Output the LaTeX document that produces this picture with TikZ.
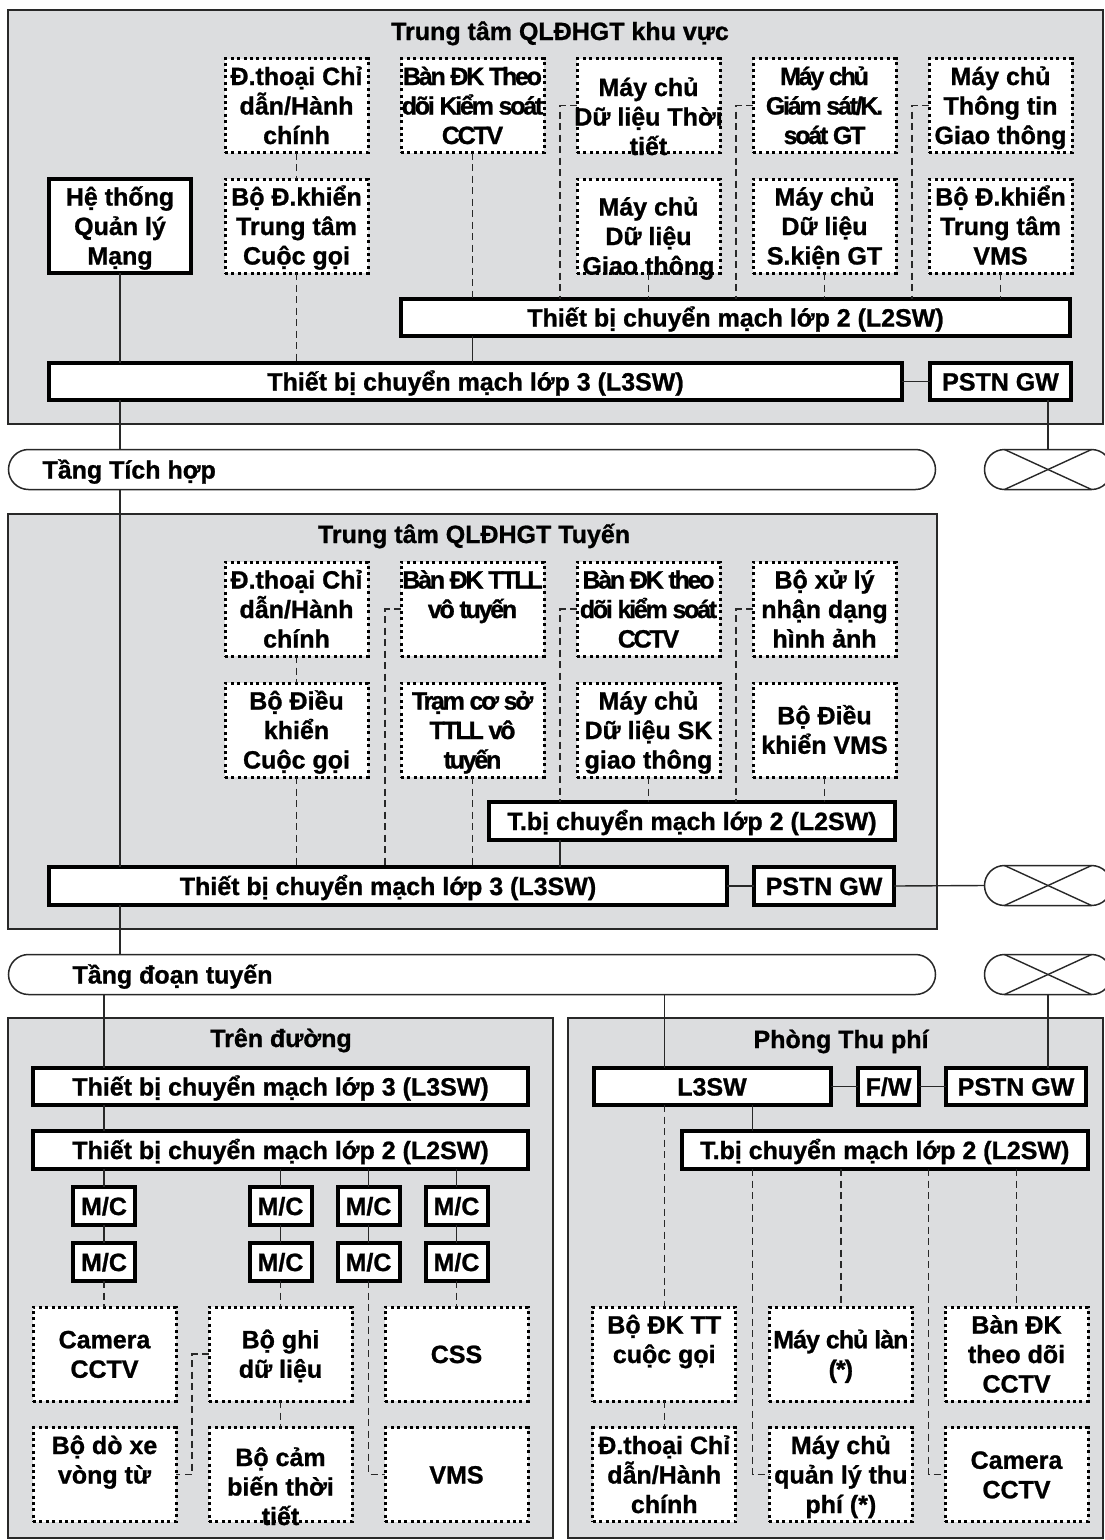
\documentclass[tikz,border=0pt]{standalone}
\usepackage{fontspec}
\setmainfont{Liberation Sans}[BoldFeatures={FakeBold=1}]
\usetikzlibrary{shapes.misc}
\definecolor{graybg}{RGB}{220,221,223}
\definecolor{linec}{RGB}{40,40,40}
\newcommand\bfont{\bfseries\fontsize{25}{29.5}\selectfont\lineskiplimit=-100pt\relax}
\newcommand\vs{\rule[-5.5pt]{0pt}{29pt}}
\begin{document}
\begin{tikzpicture}[x=1pt,y=-1pt,
  every node/.style={outer sep=0pt},
  frame/.style={draw=linec, line width=1.5pt, fill=graybg, inner sep=0pt},
  heading/.style={font=\bfont, inner sep=0pt, anchor=base},
  txt/.style={align=center, font=\bfont, inner sep=0pt},
  sw/.style={txt, draw=black, line width=4pt, fill=white, minimum height=37pt},
  mc/.style={sw, minimum width=62pt, minimum height=38pt},
  dbox/.style={txt, draw=black, line width=3pt, dash pattern=on 3pt off 3.4pt, fill=white, minimum width=143pt, minimum height=94pt},
  tight/.style={font=\bfont\addfontfeature{LetterSpace=-9}},
  semitight/.style={font=\bfont\addfontfeature{LetterSpace=-4}},
  link/.style={draw=linec, line width=1.4pt},
  dlink/.style={draw=linec, line width=1.4pt, dash pattern=on 7pt off 4.5pt},
  bus/.style={rounded rectangle, draw=linec, line width=1.5pt, fill=white, inner sep=0pt, minimum height=40pt},
  pstn cloud/.style={bus, minimum width=127pt},
  ]
\fill[white] (0,0) rectangle (1105,1540);
\useasboundingbox (0,0) rectangle (1105,1540);

% ---------------- regional centre ----------------
\node[frame, minimum width=1095pt, minimum height=414pt] (fr1) at (555.5,217) {};
\node[heading] (t1) at (560,40) {Trung tâm QLĐHGT khu vực};

\node[dbox] (a1) at (296.5,105.5) {\vs Đ.thoại Chỉ\\dẫn/Hành\\chính\vs};
\node[dbox,tight] (a2) at (472.5,105.5) {\vs Bàn ĐK Theo\\dõi Kiểm soát\\CCTV\vs};
\node[dbox, label={[txt,yshift=-11pt]center:{\vs Máy chủ\\Dữ liệu Thời\\tiết\vs}}] (a3) at (648.5,105.5) {};
\node[dbox,tight] (a4) at (824.5,105.5) {\vs Máy chủ\\Giám sát/K.\\soát GT\vs};
\node[dbox] (a5) at (1000.5,105.5) {\vs Máy chủ\\Thông tin\\Giao thông\vs};

\node[sw, minimum width=142pt, minimum height=94pt] (hts) at (120,226) {\vs Hệ thống\\Quản lý\\Mạng\vs};
\node[dbox] (b1) at (296.5,226) {\vs Bộ Đ.khiển\\Trung tâm\\Cuộc gọi\vs};
\node[dbox, label={[txt,yshift=-10pt]center:{\vs Máy chủ\\Dữ liệu\\Giao thông\vs}}] (b3) at (648.5,226) {};
\node[dbox] (b4) at (824.5,226) {\vs Máy chủ\\Dữ liệu\\S.kiện GT\vs};
\node[dbox] (b5) at (1000.5,226) {\vs Bộ Đ.khiển\\Trung tâm\\VMS\vs};

\node[sw, minimum width=669pt] (tl2) at (735.5,317.5) {\vs Thiết bị chuyển mạch lớp 2 (L2SW)\vs};
\node[sw, minimum width=853pt] (tl3) at (475.5,381.5) {\vs Thiết bị chuyển mạch lớp 3 (L3SW)\vs};
\node[sw, minimum width=141pt] (tgw) at (1000.5,381.5) {\vs PSTN GW\vs};

% ---------------- integration layer ----------------
\node[bus, minimum width=927pt, label={[txt,anchor=west,xshift=34pt]west:{\vs Tầng Tích hợp\vs}}] (bus1) at (472,469.5) {};
\node[pstn cloud] (cl1) at (1048,469.5) {};

% ---------------- route centre ----------------
\node[frame, minimum width=929pt, minimum height=415pt] (fr2) at (472.5,721.5) {};
\node[heading] (t2) at (474,543) {Trung tâm QLĐHGT Tuyến};

\node[dbox] (c1) at (296.5,609) {\vs Đ.thoại Chỉ\\dẫn/Hành\\chính\vs};
\node[dbox,tight] (c2) at (472.5,609) {\vs Bàn ĐK TTLL\\vô tuyến\\\vs};
\node[dbox,tight] (c3) at (648.5,609) {\vs Bàn ĐK theo\\dõi kiểm soát\\CCTV\vs};
\node[dbox] (c4) at (824.5,609) {\vs Bộ xử lý\\nhận dạng\\hình ảnh\vs};

\node[dbox] (d1) at (296.5,730) {\vs Bộ Điều\\khiển\\Cuộc gọi\vs};
\node[dbox,tight] (d2) at (472.5,730) {\vs Trạm cơ sở\\TTLL vô\\tuyến\vs};
\node[dbox] (d3) at (648.5,730) {\vs Máy chủ\\Dữ liệu SK\\giao thông\vs};
\node[dbox] (d4) at (824.5,730) {\vs Bộ Điều\\khiển VMS\vs};

\node[sw, minimum width=406pt, minimum height=38pt] (ml2) at (692,821) {\vs T.bị chuyển mạch lớp 2 (L2SW)\vs};
\node[sw, minimum width=678pt, minimum height=38pt] (ml3) at (388,886) {\vs Thiết bị chuyển mạch lớp 3 (L3SW)\vs};
\node[sw, minimum width=140pt, minimum height=38pt] (mgw) at (824,886) {\vs PSTN GW\vs};
\node[pstn cloud] (cl2) at (1048,885.5) {};

% ---------------- section layer ----------------
\node[bus, minimum width=927pt, label={[txt,anchor=west,xshift=64pt]west:{\vs Tầng đoạn tuyến\vs}}] (bus2) at (472,974.5) {};
\node[pstn cloud] (cl3) at (1048,974.5) {};

% ---------------- roadside ----------------
\node[frame, minimum width=545pt, minimum height=520pt] (fr3) at (280.5,1278) {};
\node[heading] (t3) at (281,1047) {Trên đường};
\node[sw, minimum width=495pt] (rl3) at (280.5,1086.5) {\vs Thiết bị chuyển mạch lớp 3 (L3SW)\vs};
\node[sw, minimum width=495pt, minimum height=38pt] (rl2) at (280.5,1150) {\vs Thiết bị chuyển mạch lớp 2 (L2SW)\vs};

\node[mc] (mc11) at (104,1206) {\vs M/C\vs};
\node[mc] (mc12) at (104,1262) {\vs M/C\vs};
\node[mc] (mc21) at (280.5,1206) {\vs M/C\vs};
\node[mc] (mc22) at (280.5,1262) {\vs M/C\vs};
\node[mc] (mc31) at (368.5,1206) {\vs M/C\vs};
\node[mc] (mc32) at (368.5,1262) {\vs M/C\vs};
\node[mc] (mc41) at (456.5,1206) {\vs M/C\vs};
\node[mc] (mc42) at (456.5,1262) {\vs M/C\vs};

\node[dbox] (e1) at (104.5,1354) {\vs Camera\\CCTV\vs};
\node[dbox] (e2) at (280.5,1354) {\vs Bộ ghi\\dữ liệu\vs};
\node[dbox] (e3) at (456.5,1354) {\vs CSS\vs};
\node[dbox] (f1) at (104.5,1474.5) {\vs Bộ dò xe\\vòng từ\\\vs};
\node[dbox, label={[txt,yshift=-12pt]center:{\vs Bộ cảm\\biến thời\\tiết\vs}}] (f2) at (280.5,1474.5) {};
\node[dbox] (f3) at (456.5,1474.5) {\vs VMS\vs};

% ---------------- toll office ----------------
\node[frame, minimum width=535pt, minimum height=520pt] (fr4) at (835.5,1278) {};
\node[heading] (t4) at (841,1048) {Phòng Thu phí};
\node[sw, minimum width=237pt] (pl3) at (712,1086.5) {\vs L3SW\vs};
\node[sw, minimum width=61pt] (fw) at (888.5,1086.5) {\vs F/W\vs};
\node[sw, minimum width=140pt] (pgw) at (1016,1086.5) {\vs PSTN GW\vs};
\node[sw, minimum width=405.5pt, minimum height=38pt] (pl2) at (884.75,1150) {\vs T.bị chuyển mạch lớp 2 (L2SW)\vs};

\node[dbox] (g1) at (664.25,1354) {\vs Bộ ĐK TT\\cuộc gọi\\\vs};
\node[dbox,semitight] (g2) at (840.85,1354) {\vs Máy chủ làn\\(*)\vs};
\node[dbox] (g3) at (1016.5,1354) {\vs Bàn ĐK\\theo dõi\\CCTV\vs};
\node[dbox] (h1) at (664.25,1474.5) {\vs Đ.thoại Chỉ\\dẫn/Hành\\chính\vs};
\node[dbox] (h2) at (840.85,1474.5) {\vs Máy chủ\\quản lý thu\\phí (*)\vs};
\node[dbox] (h3) at (1016.5,1474.5) {\vs Camera\\CCTV\vs};

% ---------------- PSTN cloud crosses ----------------
\foreach \c in {cl1,cl2,cl3}{
  \draw[link] ([xshift=-43.5pt]\c.north) -- ([xshift=43.5pt]\c.south);
  \draw[link] ([xshift=-43.5pt]\c.south) -- ([xshift=43.5pt]\c.north);
}

% ---------------- connectors: regional centre ----------------
\coordinate (ka3) at ([xshift=-17pt]a3.west);
\coordinate (ka4) at ([xshift=-17pt]a4.west);
\coordinate (ka5) at ([xshift=-17pt]a5.west);
\draw[dlink] (a1) -- (b1);
\draw[dlink] (b1.south) -- (b1.south |- tl3.north);
\draw[link] (hts.south) -- (hts.south |- tl3.north);
\draw[dlink] (a2.south) -- (a2.south |- tl2.north);
\draw[link] (a2.south |- tl2.south) -- (a2.south |- tl3.north);
\draw[dlink] (a3.west) -- (ka3) -- (ka3 |- tl2.north);
\draw[dlink] (a4.west) -- (ka4) -- (ka4 |- tl2.north);
\draw[dlink] (a5.west) -- (ka5) -- (ka5 |- tl2.north);
\draw[dlink] (b3.south) -- (b3.south |- tl2.north);
\draw[dlink] (b4.south) -- (b4.south |- tl2.north);
\draw[dlink] (b5.south) -- (b5.south |- tl2.north);
\draw[link] (tl3.east) -- (tgw.west);
\draw[link] (cl1.north |- tgw.south) -- (cl1.north);
\draw[link] (hts.south |- tl3.south) -- (hts.south |- bus1.north);
\draw[link] (hts.south |- bus1.south) -- (hts.south |- ml3.north);

% ---------------- connectors: route centre ----------------
\coordinate (kc2) at ([xshift=-16pt]c2.west);
\coordinate (kc3) at ([xshift=-17pt]c3.west);
\coordinate (kc4) at ([xshift=-17pt]c4.west);
\draw[dlink] (c1) -- (d1);
\draw[dlink] (d1.south) -- (d1.south |- ml3.north);
\draw[dlink] (c2.west) -- (kc2) -- (kc2 |- ml3.north);
\draw[dlink] (d2.south) -- (d2.south |- ml3.north);
\draw[dlink] (c3.west) -- (kc3) -- (kc3 |- ml2.north);
\draw[dlink] (d3.south) -- (d3.south |- ml2.north);
\draw[dlink] (c4.west) -- (kc4) -- (kc4 |- ml2.north);
\draw[dlink] (d4.south) -- (d4.south |- ml2.north);
\draw[link] (kc3 |- ml2.south) -- (kc3 |- ml3.north);
\draw[link] (ml3.east) -- (mgw.west);
\draw[link] (mgw.east) -- (cl2.west);
\draw[link] (hts.south |- ml3.south) -- (hts.south |- bus2.north);

% ---------------- connectors: roadside ----------------
\coordinate (ke2) at ([xshift=-17pt]e2.west);
\draw[link] (mc11.north |- bus2.south) -- (mc11.north |- rl3.north);
\draw[link] (mc11.north |- rl3.south) -- (mc11.north |- rl2.north);
\foreach \m in {mc11,mc21,mc31,mc41}{
  \draw[link] (\m.north |- rl2.south) -- (\m.north);
}
\draw[link] (mc11) -- (mc12);
\draw[link] (mc21) -- (mc22);
\draw[link] (mc31) -- (mc32);
\draw[link] (mc41) -- (mc42);
\draw[dlink] (mc12.south) -- (mc12.south |- e1.north);
\draw[dlink] (mc22.south) -- (mc22.south |- e2.north);
\draw[dlink] (mc42.south) -- (mc42.south |- e3.north);
\draw[dlink] (mc32.south) -- (mc32.south |- f3.west) -- (f3.west);
\draw[dlink] (e2.west) -- (ke2) -- (ke2 |- f1.east) -- (f1.east);
\draw[dlink] (e2) -- (f2);

% ---------------- connectors: toll office ----------------
\coordinate (kh2) at ([xshift=-16.75pt]h2.west);
\coordinate (kh3) at ([xshift=-16.5pt]h3.west);
\draw[link] (g1.north |- bus2.south) -- (g1.north |- pl3.north);
\draw[link] (cl3.south) -- (cl3.south |- pgw.north);
\draw[link] (pl3.east) -- (fw.west);
\draw[link] (fw.east) -- (pgw.west);
\draw[link] (kh2 |- pl3.south) -- (kh2 |- pl2.north);
\draw[dlink] (g1.north |- pl3.south) -- (g1.north);
\draw[dlink] (g1) -- (h1);
\draw[dlink] (kh2 |- pl2.south) -- (kh2) -- (h2.west);
\draw[dlink] (g2.north |- pl2.south) -- (g2.north);
\draw[dlink] (kh3 |- pl2.south) -- (kh3) -- (h3.west);
\draw[dlink] (g3.north |- pl2.south) -- (g3.north);
\end{tikzpicture}
\end{document}
